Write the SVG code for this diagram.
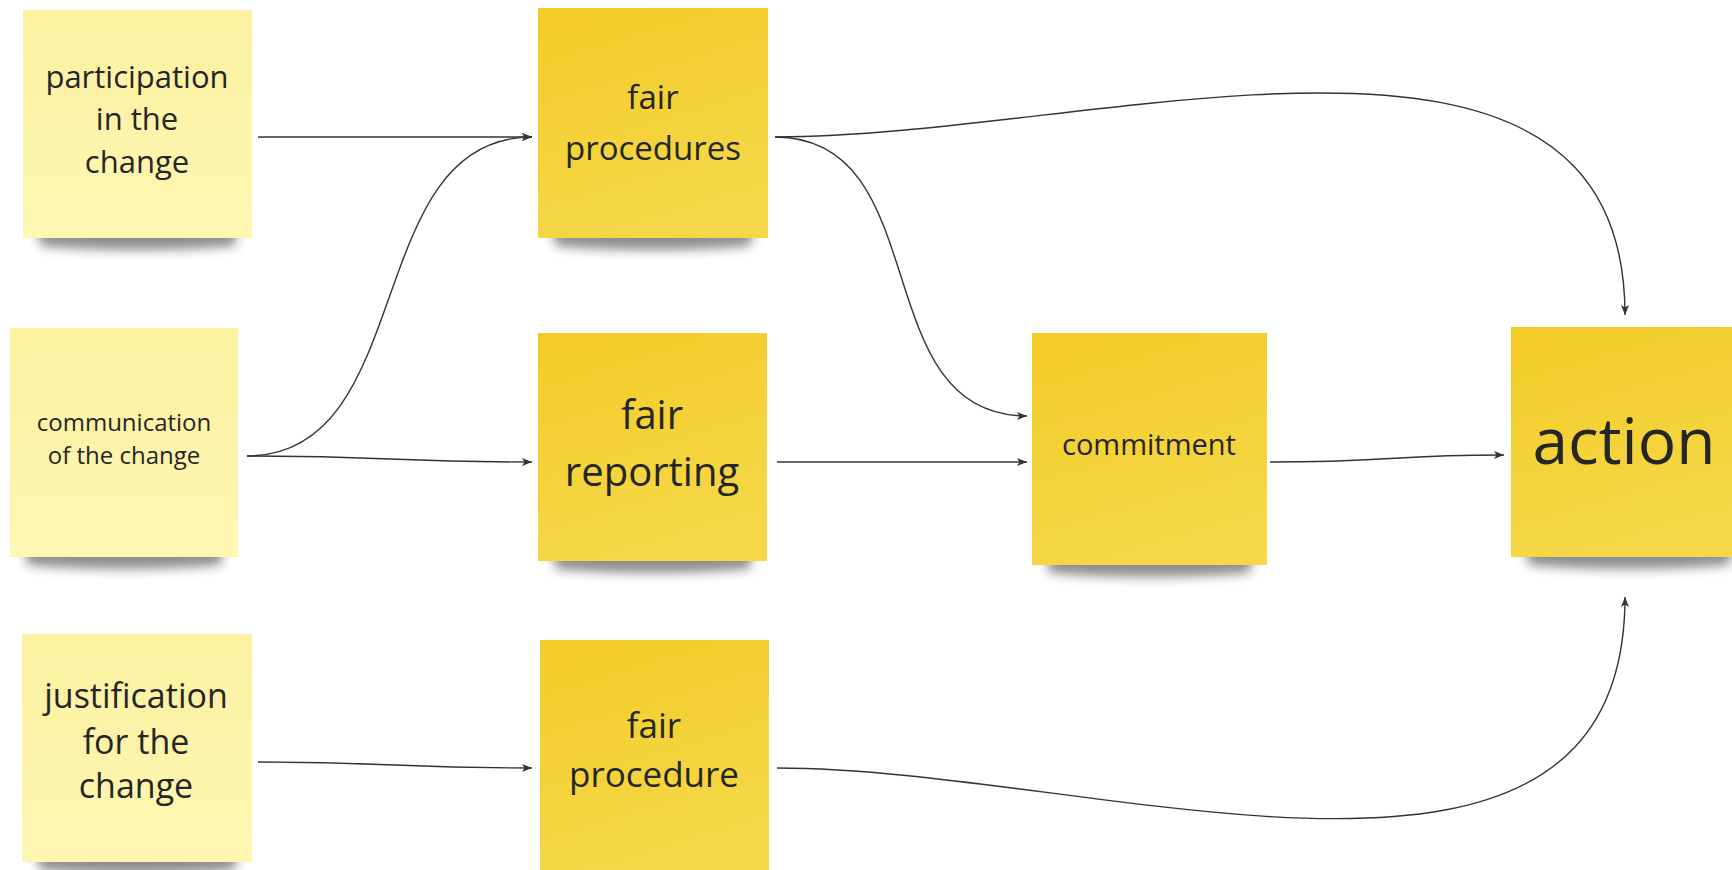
<svg xmlns="http://www.w3.org/2000/svg" width="1732" height="870" viewBox="0 0 1732 870">
  <defs>
    <linearGradient id="paleFill" x1="0" y1="0" x2="0" y2="1">
      <stop offset="0" stop-color="#FBF1A0"/>
      <stop offset="1" stop-color="#FEF6B3"/>
    </linearGradient>
    <linearGradient id="goldFill" x1="0" y1="0" x2="0.3" y2="1">
      <stop offset="0" stop-color="#F2CC26"/>
      <stop offset="1" stop-color="#F5D748"/>
    </linearGradient>
    <filter id="softShadow" x="-20%" y="-60%" width="140%" height="220%">
      <feGaussianBlur stdDeviation="5.5"/>
    </filter>
    <marker id="arrow" markerUnits="userSpaceOnUse" markerWidth="12" markerHeight="10" refX="10" refY="4" orient="auto">
      <path d="M0,0 L10,4 L0,8 L2.5,4 Z" fill="#333"/>
    </marker>
  </defs>
  <style>
    .shadow { fill: #1e1e1e; opacity: 0.5; filter: url(#softShadow); }
    .pale .paper { fill: url(#paleFill); }
    .gold .paper { fill: url(#goldFill); }
    text { font-family: "Open Sans", "Noto Sans", "Liberation Sans", sans-serif; fill: #262626; text-anchor: middle; }
    .link { fill: none; stroke: #333; stroke-width: 1.4; marker-end: url(#arrow); }
  </style>

  <rect width="1732" height="870" fill="#FFFFFF"/>

  <!-- sticky notes: a blurred curl shadow sits under each sheet -->
  <g id="participation" class="pale">
    <path class="shadow" d="M35,220 H240 L234,246 Q137,254 41,246 Z"/>
    <rect class="paper" x="23" y="10" width="229" height="228"/>
    <text font-size="31"><tspan x="137" y="88">participation</tspan><tspan x="137" y="130">in the</tspan><tspan x="137" y="173">change</tspan></text>
  </g>

  <g id="communication" class="pale">
    <path class="shadow" d="M22,539 H226 L220,565 Q124,573 28,565 Z"/>
    <rect class="paper" x="10" y="328" width="228" height="229"/>
    <text font-size="24"><tspan x="124" y="431">communication</tspan><tspan x="124" y="464">of the change</tspan></text>
  </g>

  <g id="justification" class="pale">
    <path class="shadow" d="M34,844 H240 L234,870 Q137,878 40,870 Z"/>
    <rect class="paper" x="22" y="634" width="230" height="228"/>
    <text font-size="34"><tspan x="136" y="708">justification</tspan><tspan x="136" y="754">for the</tspan><tspan x="136" y="798">change</tspan></text>
  </g>

  <g id="fair-procedures" class="gold">
    <path class="shadow" d="M550,220 H756 L750,246 Q653,254 556,246 Z"/>
    <rect class="paper" x="538" y="8" width="230" height="230"/>
    <text font-size="33"><tspan x="653" y="109">fair</tspan><tspan x="653" y="160">procedures</tspan></text>
  </g>

  <g id="fair-reporting" class="gold">
    <path class="shadow" d="M550,543 H755 L749,569 Q652,577 556,569 Z"/>
    <rect class="paper" x="538" y="333" width="229" height="228"/>
    <text font-size="40"><tspan x="652" y="429">fair</tspan><tspan x="652" y="486">reporting</tspan></text>
  </g>

  <g id="fair-procedure" class="gold">
    <path class="shadow" d="M552,852 H757 L751,878 Q654,886 558,878 Z"/>
    <rect class="paper" x="540" y="640" width="229" height="230"/>
    <text font-size="35"><tspan x="654" y="738">fair</tspan><tspan x="654" y="787">procedure</tspan></text>
  </g>

  <g id="commitment" class="gold">
    <path class="shadow" d="M1044,547 H1255 L1249,573 Q1149,581 1050,573 Z"/>
    <rect class="paper" x="1032" y="333" width="235" height="232"/>
    <text font-size="29" x="1149" y="455">commitment</text>
  </g>

  <g id="action" class="gold">
    <path class="shadow" d="M1523,539 H1735 L1729,565 Q1626,573 1529,565 Z"/>
    <rect class="paper" x="1511" y="327" width="232" height="230"/>
    <text font-size="64" x="1624" y="464">action</text>
  </g>

  <!-- connectors -->
  <g id="connectors">
    <path class="link" d="M258,137 L532,137"/>
    <path class="link" d="M247,456 C419,456 360,137 532,137"/>
    <path class="link" d="M247,456 C390,456 390,462 532,462"/>
    <path class="link" d="M258,762 C395,762 395,768 532,768"/>
    <path class="link" d="M775,137 C938,137 864,416 1027,416"/>
    <path class="link" d="M777,462 L1027,462"/>
    <path class="link" d="M775,137 C1100,137 1625,-40 1625,315"/>
    <path class="link" d="M1270,462 C1390,462 1390,455 1504,455"/>
    <path class="link" d="M777,768 C1100,768 1625,960 1625,597"/>
  </g>
</svg>
